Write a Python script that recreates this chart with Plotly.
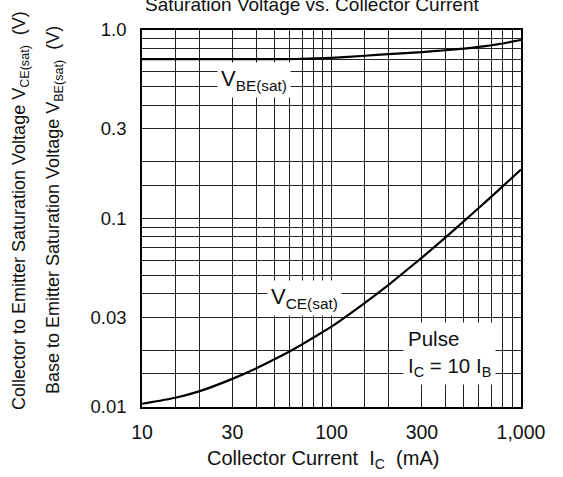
import plotly.graph_objects as go

# Collector current (mA) and saturation voltages (V)
ic_vbe = [10, 20, 30, 50, 60, 70, 100, 150, 200, 300, 400, 500, 600, 700, 800, 1000]
vbe_sat = [0.700, 0.700, 0.700, 0.700, 0.701, 0.703, 0.712, 0.730, 0.745, 0.764,
           0.781, 0.797, 0.813, 0.830, 0.848, 0.885]

ic_vce = [10, 15, 20, 30, 40, 50, 60, 70, 80, 100, 150, 200, 300, 400, 500, 600, 700, 800, 1000]
vce_sat = [0.0104, 0.0112, 0.0121, 0.0141, 0.0160, 0.0179, 0.0197, 0.0215, 0.0233, 0.0267,
           0.0357, 0.0445, 0.0620, 0.0794, 0.0968, 0.1140, 0.1311, 0.1480, 0.1820]

x_ticks = [10, 30, 100, 300, 1000]
x_ticktext = ["10", "30", "100", "300", "1,000"]
y_ticks = [0.01, 0.03, 0.1, 0.3, 1.0]
y_ticktext = ["0.01", "0.03", "0.1", "0.3", "1.0"]
x_minor = [15, 20, 40, 50, 60, 70, 80, 90, 150, 200, 400, 500, 600, 700, 800, 900]
y_minor = [0.015, 0.02, 0.04, 0.05, 0.06, 0.07, 0.08, 0.09,
           0.15, 0.2, 0.4, 0.5, 0.6, 0.7, 0.8, 0.9]

FONT = "Liberation Sans, Arial, Helvetica, sans-serif"
GRID = "#222222"
NB = "\u00a0"

fig = go.Figure()
fig.add_trace(go.Scatter(x=ic_vbe, y=vbe_sat, mode="lines",
                         line=dict(color="black", width=2.2, shape="spline", smoothing=0.5),
                         showlegend=False, hoverinfo="skip"))
fig.add_trace(go.Scatter(x=ic_vce, y=vce_sat, mode="lines",
                         line=dict(color="black", width=2.2, shape="spline", smoothing=0.5),
                         showlegend=False, hoverinfo="skip"))

fig.update_layout(
    width=563, height=477,
    margin=dict(l=142, r=42, t=30, b=70, pad=0),
    paper_bgcolor="white", plot_bgcolor="white",
    font=dict(family=FONT, size=19, color="#111"),
    xaxis=dict(
        type="log", range=[1, 3], automargin=False,
        tickvals=x_ticks, ticktext=x_ticktext, ticks="",
        ticklabelstandoff=7, tickfont=dict(size=19.5),
        showgrid=True, gridcolor=GRID, gridwidth=1,
        minor=dict(tickvals=x_minor, showgrid=True, gridcolor=GRID, gridwidth=1, ticks=""),
        showline=True, linecolor="black", linewidth=1.5, mirror=True,
        zeroline=False,
    ),
    yaxis=dict(
        type="log", range=[-2, 0], automargin=False,
        tickvals=y_ticks, ticktext=y_ticktext, ticks="",
        ticklabelstandoff=10, tickfont=dict(size=18.5),
        showgrid=True, gridcolor=GRID, gridwidth=1,
        minor=dict(tickvals=y_minor, showgrid=True, gridcolor=GRID, gridwidth=1, ticks=""),
        showline=True, linecolor="black", linewidth=1.5, mirror=True,
        zeroline=False,
    ),
)

PW, PH, L, T = 379, 377, 142, 30


def px(xp):
    return (xp - L) / PW


def py(yp):
    return (T + PH - yp) / PH


annotations = [
    dict(text="Saturation Voltage vs. Collector Current", xref="paper", yref="paper",
         x=px(143), y=py(4.5), xanchor="left", yanchor="middle",
         showarrow=False, font=dict(size=19)),
    dict(text="Collector Current" + NB + NB + "I<sub>C</sub>" + NB + NB + "(mA)",
         xref="paper", yref="paper", x=px(205), y=py(459), xanchor="left", yanchor="middle",
         showarrow=False, font=dict(size=20)),
    dict(text="Collector to Emitter Saturation Voltage V<sub>CE(sat)</sub>" + NB + NB + "(V)",
         xref="paper", yref="paper", x=px(20), y=py(211),
         xanchor="center", yanchor="middle", textangle=-90, showarrow=False, font=dict(size=18)),
    dict(text="Base to Emitter Saturation Voltage V<sub>BE(sat)</sub>" + NB + NB + "(V)",
         xref="paper", yref="paper", x=px(54), y=py(210),
         xanchor="center", yanchor="middle", textangle=-90, showarrow=False, font=dict(size=18)),
    dict(text="V<sub>BE(sat)</sub>", x=1.591, y=-0.266, xref="x", yref="y",
         showarrow=False, bgcolor="white", borderpad=3, font=dict(size=22)),
    dict(text="V<sub>CE(sat)</sub>", x=1.855, y=-1.42, xref="x", yref="y",
         showarrow=False, bgcolor="white", borderpad=3, font=dict(size=22)),
    dict(text="Pulse<br>I<sub>C</sub> = 10 I<sub>B</sub>", x=2.625, y=-1.718, xref="x", yref="y",
         showarrow=False, bgcolor="white", borderpad=4, align="left", font=dict(size=20.5)),
]
fig.update_layout(annotations=annotations)

fig.write_html("out.html", config={"displayModeBar": False},
               post_script="document.body.style.margin='0';")
